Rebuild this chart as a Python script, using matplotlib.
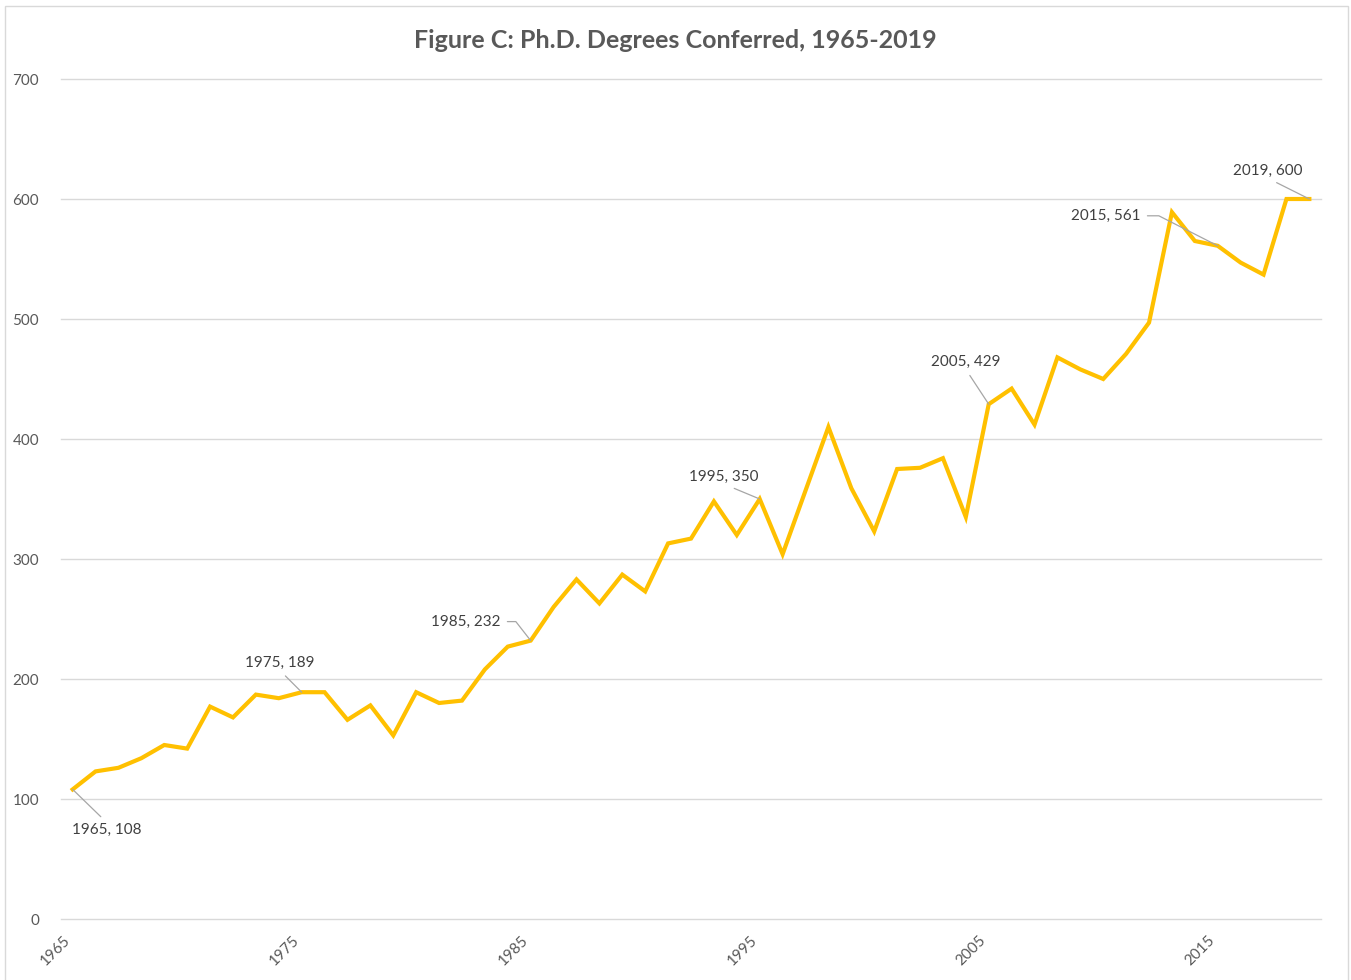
import matplotlib
matplotlib.use('Agg')
import matplotlib.pyplot as plt
from matplotlib.patches import Rectangle
import matplotlib.transforms as mtransforms

# Ph.D. degrees conferred per year
years = list(range(1965, 2020))
degrees = [108, 123, 126, 134, 145, 142, 177, 168, 187, 184,
           189, 189, 166, 178, 153, 189, 180, 182, 208, 227,
           232, 260, 283, 263, 287, 273, 313, 317, 348, 320,
           350, 304, 357, 410, 359, 323, 375, 376, 384, 335,
           429, 442, 412, 468, 458, 450, 471, 497, 589, 565,
           561, 547, 537, 600, 600]

labeled_years = [1965, 1975, 1985, 1995, 2005, 2015, 2019]
xtick_years = [1965, 1975, 1985, 1995, 2005, 2015]
yticks = [0, 100, 200, 300, 400, 500, 600, 700]

title = 'Figure C: Ph.D. Degrees Conferred, 1965-2019'

plt.rcParams['font.family'] = ['Lato', 'DejaVu Sans']

W, H = 1351, 980
fig = plt.figure(figsize=(W / 100, H / 100), dpi=100)
ax = fig.add_axes([61.2 / W, 1 - 919 / H, (1320.8 - 61.2) / W, (919 - 79) / H])

# outer chart border
fig.patches.append(Rectangle((5.5 / W, -0.01), (1348 - 5.5) / W, 1 - 6 / H + 0.01,
                             transform=fig.transFigure, fill=False,
                             edgecolor='#d9d9d9', linewidth=1))

ax.plot(years, degrees, color='#FFC000', linewidth=3, solid_joinstyle='miter', zorder=3)

ax.set_xlim(1964.5, 2019.5)
ax.set_ylim(0, 700)
ax.set_yticks(yticks)
ax.set_xticks(xtick_years)
ax.set_xticklabels([str(y) for y in xtick_years], rotation=45, ha='right', va='top')
# nudge the slanted year labels a few pixels right, like the original
shift = mtransforms.ScaledTranslation(4 / 100, 0, fig.dpi_scale_trans)
for lbl in ax.get_xticklabels():
    lbl.set_transform(lbl.get_transform() + shift)
ax.grid(axis='y', color='#d9d9d9', linewidth=1)
for gl in ax.get_ygridlines():
    gl.set_clip_on(False)
ax.set_axisbelow(True)
for s in ax.spines.values():
    s.set_visible(False)
ax.tick_params(axis='both', length=0, colors='#595959', labelsize=11)
ax.tick_params(axis='y', pad=16)
ax.tick_params(axis='x', pad=10)

fig.text(0.5, 1 - 40 / H, title, ha='center', va='center', fontsize=18,
         fontweight='bold', color='#595959')

# data labels: (offset in pixels, relpos of leader start, connection style)
label_style = {
    1965: ((34, -40), (0.5, 1.0), 'arc3'),
    1975: ((-22, 29), (0.5, 0.0), 'arc3'),
    1985: ((-65, 19), (1.0, 0.5), 'angle,angleA=0,angleB=128,rad=0'),
    1995: ((-36, 22), (0.5, 0.0), 'arc3'),
    2005: ((-23, 42), (0.5, 0.0), 'arc3'),
    2015: ((-112, 30), (1.0, 0.5), 'angle,angleA=0,angleB=153,rad=0'),
    2019: ((-42, 28), (0.5, 0.0), 'arc3'),
}
for yr in labeled_years:
    val = degrees[years.index(yr)]
    off, rel, conn = label_style[yr]
    ax.annotate(f'{yr}, {val}', xy=(yr, val), xytext=off, textcoords='offset pixels',
                ha='center', va='center', fontsize=11, color='#404040',
                arrowprops=dict(arrowstyle='-', color='#a6a6a6', lw=0.9,
                                relpos=rel, shrinkA=3, shrinkB=0,
                                connectionstyle=conn),
                zorder=4)

fig.savefig('out.png', dpi=100, facecolor='white')
